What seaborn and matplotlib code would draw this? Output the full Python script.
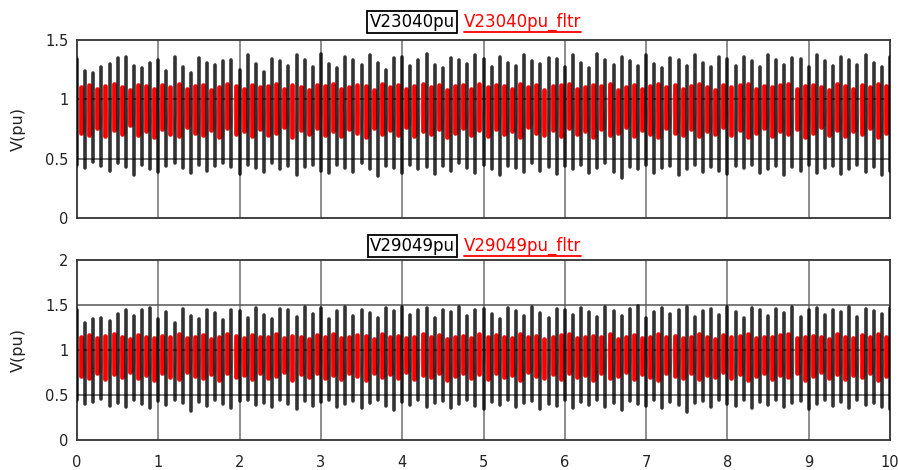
import numpy as np
import pandas as pd
import matplotlib
matplotlib.use("Agg")
import matplotlib.pyplot as plt
import seaborn as sns
from matplotlib.lines import Line2D

# ---------------- data ----------------
spike_step = 0.1          # spacing of the oscillation peaks (s)
red_offset = 0.05         # filtered trace peaks sit between the raw ones

top_black_hi = [1.34,1.24,1.22,1.27,1.30,1.35,1.36,1.28,1.26,1.31,
 1.33,1.24,1.36,1.27,1.22,1.35,1.31,1.29,1.32,1.33,
 1.25,1.37,1.30,1.23,1.34,1.32,1.28,1.37,1.33,1.27,
 1.38,1.30,1.26,1.36,1.33,1.29,1.37,1.31,1.25,1.35,
 1.36,1.28,1.33,1.38,1.29,1.26,1.35,1.33,1.30,1.37,
 1.34,1.27,1.36,1.31,1.28,1.37,1.32,1.30,1.35,1.34,
 1.27,1.37,1.31,1.26,1.38,1.33,1.29,1.36,1.32,1.28,
 1.37,1.30,1.26,1.35,1.33,1.28,1.37,1.31,1.27,1.36,
 1.34,1.28,1.36,1.32,1.27,1.37,1.33,1.29,1.35,1.34,
 1.27,1.37,1.32,1.28,1.36,1.33,1.29,1.37,1.31,1.27,1.36]
top_black_lo = [0.45,0.42,0.47,0.44,0.40,0.46,0.43,0.36,0.45,0.41,
 0.39,0.44,0.46,0.42,0.38,0.45,0.40,0.44,0.46,0.43,
 0.37,0.45,0.42,0.39,0.46,0.41,0.44,0.36,0.43,0.45,
 0.40,0.38,0.45,0.42,0.39,0.46,0.41,0.35,0.44,0.42,
 0.38,0.45,0.41,0.43,0.37,0.44,0.40,0.46,0.42,0.38,
 0.45,0.41,0.36,0.44,0.42,0.39,0.46,0.40,0.43,0.37,
 0.44,0.41,0.45,0.38,0.42,0.46,0.39,0.34,0.43,0.41,
 0.45,0.38,0.42,0.44,0.36,0.41,0.45,0.39,0.43,0.40,
 0.37,0.44,0.42,0.45,0.38,0.41,0.44,0.36,0.43,0.40,
 0.45,0.38,0.42,0.44,0.37,0.41,0.45,0.39,0.43,0.36,0.40]
top_red_hi = [1.10,1.12,1.09,1.11,1.13,1.10,1.08,1.12,1.11,1.09,
 1.12,1.10,1.13,1.09,1.11,1.12,1.08,1.10,1.13,1.11,
 1.09,1.12,1.10,1.11,1.13,1.09,1.12,1.10,1.08,1.12,
 1.11,1.13,1.09,1.10,1.12,1.11,1.08,1.13,1.10,1.12,
 1.09,1.11,1.13,1.10,1.12,1.08,1.11,1.12,1.09,1.13,
 1.10,1.12,1.11,1.09,1.13,1.10,1.12,1.08,1.11,1.12,
 1.13,1.09,1.10,1.12,1.11,1.13,1.08,1.10,1.12,1.09,
 1.11,1.13,1.10,1.12,1.09,1.11,1.13,1.10,1.08,1.12,
 1.10,1.12,1.13,1.09,1.11,1.10,1.12,1.13,1.09,1.11,
 1.12,1.10,1.08,1.13,1.11,1.09,1.12,1.10,1.13,1.11,1.10]
top_red_lo = [0.72,0.70,0.76,0.69,0.74,0.71,0.78,0.70,0.73,0.68,
 0.75,0.71,0.69,0.77,0.72,0.70,0.74,0.68,0.76,0.71,
 0.73,0.69,0.75,0.70,0.72,0.77,0.68,0.74,0.71,0.76,
 0.70,0.73,0.69,0.75,0.72,0.68,0.76,0.71,0.74,0.70,
 0.77,0.69,0.73,0.71,0.75,0.68,0.72,0.76,0.70,0.74,
 0.69,0.75,0.71,0.73,0.68,0.77,0.72,0.70,0.74,0.69,
 0.76,0.71,0.73,0.68,0.75,0.70,0.72,0.77,0.69,0.74,
 0.71,0.68,0.76,0.72,0.70,0.75,0.69,0.73,0.71,0.77,
 0.70,0.74,0.68,0.72,0.76,0.69,0.73,0.71,0.75,0.68,
 0.72,0.77,0.70,0.74,0.69,0.73,0.71,0.76,0.68,0.72,0.70]

bot_black_hi = [1.45,1.30,1.34,1.36,1.32,1.40,1.45,1.38,1.44,1.47,
 1.35,1.42,1.30,1.46,1.38,1.35,1.44,1.41,1.33,1.45,
 1.43,1.36,1.47,1.39,1.34,1.46,1.44,1.37,1.48,1.40,
 1.47,1.35,1.43,1.48,1.38,1.45,1.41,1.36,1.47,1.43,
 1.48,1.39,1.44,1.47,1.36,1.45,1.42,1.48,1.38,1.44,
 1.46,1.40,1.35,1.47,1.43,1.38,1.48,1.41,1.36,1.46,
 1.44,1.39,1.47,1.42,1.37,1.48,1.43,1.38,1.46,1.49,
 1.36,1.42,1.47,1.40,1.45,1.48,1.37,1.43,1.46,1.39,
 1.48,1.42,1.36,1.47,1.44,1.38,1.46,1.41,1.48,1.37,
 1.44,1.47,1.39,1.45,1.42,1.48,1.37,1.46,1.43,1.40,1.47]
bot_black_lo = [0.44,0.40,0.42,0.46,0.38,0.41,0.37,0.44,0.40,0.36,
 0.43,0.39,0.45,0.41,0.32,0.42,0.38,0.44,0.40,0.36,
 0.43,0.45,0.39,0.41,0.37,0.44,0.40,0.35,0.43,0.38,
 0.42,0.45,0.37,0.40,0.43,0.36,0.41,0.44,0.38,0.33,
 0.42,0.39,0.45,0.37,0.41,0.43,0.36,0.40,0.44,0.38,
 0.35,0.42,0.39,0.45,0.37,0.41,0.43,0.34,0.40,0.38,
 0.44,0.36,0.42,0.39,0.45,0.37,0.41,0.33,0.43,0.40,
 0.38,0.44,0.36,0.42,0.39,0.31,0.41,0.43,0.37,0.45,
 0.40,0.38,0.44,0.36,0.42,0.39,0.45,0.37,0.41,0.43,
 0.35,0.40,0.44,0.38,0.42,0.36,0.45,0.39,0.41,0.37,0.34]
bot_red_hi = [1.15,1.17,1.13,1.16,1.18,1.14,1.12,1.17,1.15,1.13,
 1.16,1.14,1.18,1.13,1.15,1.17,1.12,1.14,1.18,1.16,
 1.13,1.17,1.15,1.14,1.18,1.13,1.16,1.15,1.12,1.17,
 1.15,1.18,1.13,1.14,1.17,1.16,1.12,1.18,1.14,1.16,
 1.13,1.15,1.18,1.14,1.17,1.12,1.15,1.16,1.13,1.18,
 1.14,1.17,1.15,1.13,1.18,1.14,1.16,1.12,1.15,1.17,
 1.18,1.13,1.14,1.16,1.15,1.18,1.12,1.14,1.17,1.13,
 1.15,1.18,1.14,1.16,1.13,1.15,1.18,1.14,1.12,1.17,
 1.14,1.16,1.18,1.13,1.15,1.14,1.17,1.18,1.13,1.15,
 1.16,1.14,1.12,1.18,1.15,1.13,1.17,1.14,1.18,1.15,1.14]
bot_red_lo = [0.71,0.69,0.75,0.68,0.73,0.70,0.76,0.69,0.72,0.67,
 0.74,0.70,0.68,0.76,0.71,0.69,0.73,0.67,0.75,0.70,
 0.72,0.68,0.74,0.69,0.71,0.76,0.67,0.73,0.70,0.75,
 0.69,0.72,0.68,0.74,0.71,0.67,0.75,0.70,0.73,0.69,
 0.76,0.68,0.72,0.70,0.74,0.67,0.71,0.75,0.69,0.73,
 0.68,0.74,0.70,0.72,0.67,0.76,0.71,0.69,0.73,0.68,
 0.75,0.70,0.72,0.67,0.74,0.69,0.71,0.76,0.68,0.73,
 0.70,0.67,0.75,0.71,0.69,0.74,0.68,0.72,0.70,0.76,
 0.69,0.73,0.67,0.71,0.75,0.68,0.72,0.70,0.74,0.67,
 0.71,0.76,0.69,0.73,0.68,0.72,0.70,0.75,0.67,0.71,0.69]

top_names = ["V23040pu", "V23040pu_fltr"]
bot_names = ["V29049pu", "V29049pu_fltr"]
x_ticks = [0, 1, 2, 3, 4, 5, 6, 7, 8, 9, 10]
top_yticks = [0, 0.5, 1, 1.5]
bot_yticks = [0, 0.5, 1, 1.5, 2]
y_label = "V(pu)"


def spikes(hi, lo, offset):
    rows = []
    for i, (h, l) in enumerate(zip(hi, lo)):
        t = i * spike_step + offset
        rows.append((i, t, h))
        rows.append((i, t, l))
    return pd.DataFrame(rows, columns=["unit", "t", "v"])


def trace(hi, lo, offset):
    rows = []
    for i, (h, l) in enumerate(zip(hi, lo)):
        t = i * spike_step + offset
        rows.append((t, h))
        rows.append((t + spike_step * 0.5, l))
    return pd.DataFrame(rows, columns=["t", "v"])


sns.set_theme(style="white")
plt.rcParams["font.family"] = ["DejaVu Sans"]

W, H = 898, 470
fig = plt.figure(figsize=(W / 100, H / 100), dpi=100)
ax1 = fig.add_axes([77 / W, (H - 218) / H, 813 / W, 178 / H])
ax2 = fig.add_axes([77 / W, (H - 440) / H, 813 / W, 180 / H])

panels = [
    (ax1, top_black_hi, top_black_lo, top_red_hi, top_red_lo, top_yticks, 1.5, top_names, 22),
    (ax2, bot_black_hi, bot_black_lo, bot_red_hi, bot_red_lo, bot_yticks, 2.0, bot_names, 246),
]

grid_c = "#8c8c8c"
for ax, bhi, blo, rhi, rlo, yt, ymax, names, ly in panels:
    ax.set_xlim(0, 10)
    ax.set_ylim(0, ymax)
    for x in x_ticks[1:-1]:
        ax.axvline(x, color=grid_c, lw=1.4, zorder=0)
    for y in yt[1:-1]:
        ax.axhline(y, color="#555555", lw=1.1, zorder=0)

    # filtered trace: faint continuous line plus peak-to-trough strokes
    sns.lineplot(data=trace(rhi, rlo, red_offset), x="t", y="v", sort=False,
                 estimator=None, color="#ff8080", lw=1.2, alpha=0.5,
                 legend=False, ax=ax, zorder=1)
    sns.lineplot(data=spikes(rhi, rlo, red_offset), x="t", y="v", units="unit",
                 estimator=None, sort=False, color="#ff0000", lw=3.4,
                 legend=False, ax=ax, zorder=2)
    # raw trace
    sns.lineplot(data=spikes(bhi, blo, 0.0), x="t", y="v", units="unit",
                 estimator=None, sort=False, color="#000000", lw=2.6,
                 alpha=0.8, legend=False, ax=ax, zorder=3)

    ax.set_xlabel("")
    ax.set_ylabel(y_label, fontsize=11.5, color="#222222", labelpad=14)
    ax.set_yticks(yt)
    ax.set_yticklabels([f"{v:g}" for v in yt], fontsize=10.5, color="#222222")
    ax.set_xticks(x_ticks)
    ax.tick_params(axis="y", length=0, pad=6)
    ax.tick_params(axis="x", length=0, pad=11)
    for s in ax.spines.values():
        s.set_color("#333333")
        s.set_linewidth(1.3)

    # legend-like header
    fig.text(412 / W, 1 - ly / H, names[0], ha="center", va="center",
             fontsize=12, color="black",
             bbox=dict(boxstyle="square,pad=0.12", fc="white", ec="black", lw=1.3))
    t = fig.text(464 / W, 1 - ly / H, names[1], ha="left", va="center",
                 fontsize=12, color="#ff0000")
    fig.canvas.draw()
    bb = t.get_window_extent().transformed(fig.transFigure.inverted())
    fig.add_artist(Line2D([bb.x0, bb.x1], [bb.y0 - 0.002, bb.y0 - 0.002],
                          transform=fig.transFigure, color="#ff0000", lw=1.3))

ax1.set_xticklabels([])
ax2.set_xticklabels([str(v) for v in x_ticks], fontsize=10.5, color="#222222")

fig.savefig("out.png", dpi=100, facecolor="white")
